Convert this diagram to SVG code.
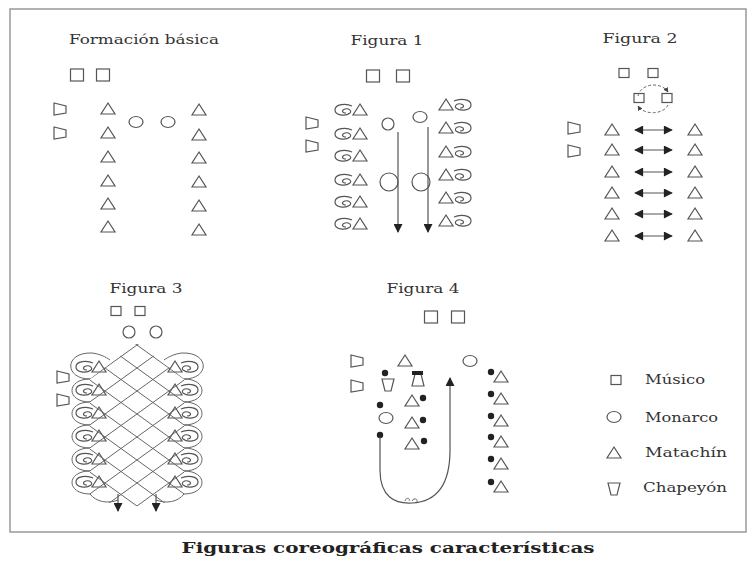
<svg xmlns="http://www.w3.org/2000/svg" width="755" height="563" viewBox="0 0 755 563">
<style>
.t{font-family:"DejaVu Serif","Liberation Serif",serif;font-size:13px;fill:#333}
.cap{font-family:"DejaVu Serif","Liberation Serif",serif;font-size:15px;font-weight:bold;fill:#222}
.ln{fill:none;stroke:#555;stroke-width:1.2}
.lt{fill:none;stroke:#666;stroke-width:1}
</style>
<defs>
<rect id="sq" x="-6.5" y="-6" width="13" height="12" fill="none" stroke="#555" stroke-width="1.2"/>
<rect id="sqs" x="-5" y="-4.5" width="10" height="9" fill="none" stroke="#555" stroke-width="1.2"/>
<ellipse id="mon" rx="7" ry="5.5" fill="none" stroke="#555" stroke-width="1.2"/>
<path id="tri" d="M0,-6 L7,5 L-7,5 Z" fill="none" stroke="#555" stroke-width="1.2"/>
<path id="chap" d="M-6,-6 L6,-3 L6,4 L-6,6 Z" fill="none" stroke="#555" stroke-width="1.2"/>
<path id="chapv" d="M-6,-6 L6,-6 L3,6 L-3,6 Z" fill="none" stroke="#555" stroke-width="1.2"/>
<path id="sw" d="M9,-4 C3,-7 -8,-6 -8,0 C-8,5 2,7 7,3 C9,1 6,-2 2,-1 C-2,0 -1,3 3,3" fill="none" stroke="#555" stroke-width="1.2"/>
<circle id="dot" r="3.2" fill="#222"/>
<marker id="ah" viewBox="0 0 10 10" refX="9" refY="5" markerWidth="10" markerHeight="9" markerUnits="userSpaceOnUse" orient="auto-start-reverse"><path d="M0,0 L10,5 L0,10 Z" fill="#222"/></marker>
<marker id="ahs" viewBox="0 0 10 10" refX="9" refY="5" markerWidth="5" markerHeight="5" markerUnits="userSpaceOnUse" orient="auto"><path d="M0,0 L10,5 L0,10 Z" fill="#444"/></marker>
<clipPath id="latt"><polygon points="137,343 90,378.8 90,496 118,506 156,506 184,496 184,378.8"/></clipPath>
</defs>

<rect id="frame" x="10" y="9" width="736" height="523" fill="none" stroke="#999" stroke-width="1.5"/>

<g id="formacion-basica">
<text class="t" x="144" y="44" text-anchor="middle" textLength="150" lengthAdjust="spacingAndGlyphs">Formación básica</text>
<g id="fb-musicos"><use href="#sq" x="77" y="75"/><use href="#sq" x="103" y="75"/></g>
<g id="fb-chapeyones"><use href="#chap" x="60" y="109"/><use href="#chap" x="60" y="133"/></g>
<g id="fb-monarcos"><use href="#mon" x="136" y="122"/><use href="#mon" x="168" y="122"/></g>
<g id="fb-matachines-izq">
<use href="#tri" x="108" y="109"/><use href="#tri" x="108" y="133"/><use href="#tri" x="108" y="157"/><use href="#tri" x="108" y="181"/><use href="#tri" x="108" y="204"/><use href="#tri" x="108" y="227"/>
</g>
<g id="fb-matachines-der">
<use href="#tri" x="199" y="110"/><use href="#tri" x="199" y="135"/><use href="#tri" x="199" y="158"/><use href="#tri" x="199" y="182"/><use href="#tri" x="199" y="206"/><use href="#tri" x="199" y="230"/>
</g>
</g>

<g id="figura-1">
<text class="t" x="387" y="45" text-anchor="middle" textLength="73" lengthAdjust="spacingAndGlyphs">Figura 1</text>
<g id="f1-musicos"><use href="#sq" x="373" y="76"/><use href="#sq" x="403" y="76"/></g>
<g id="f1-chapeyones"><use href="#chap" x="312" y="123"/><use href="#chap" x="312" y="146"/></g>
<g id="f1-izq">
<use href="#sw" x="343" y="110"/><use href="#tri" x="360" y="110"/>
<use href="#sw" x="343" y="134"/><use href="#tri" x="360" y="134"/>
<use href="#sw" x="343" y="156"/><use href="#tri" x="360" y="156"/>
<use href="#sw" x="343" y="180"/><use href="#tri" x="360" y="180"/>
<use href="#sw" x="343" y="202"/><use href="#tri" x="360" y="202"/>
<use href="#sw" x="343" y="224"/><use href="#tri" x="360" y="224"/>
</g>
<g id="f1-der">
<use href="#tri" x="446" y="105"/><use href="#sw" transform="translate(463,105) scale(-1,1)"/>
<use href="#tri" x="446" y="128"/><use href="#sw" transform="translate(463,128) scale(-1,1)"/>
<use href="#tri" x="446" y="152"/><use href="#sw" transform="translate(463,152) scale(-1,1)"/>
<use href="#tri" x="446" y="175"/><use href="#sw" transform="translate(463,175) scale(-1,1)"/>
<use href="#tri" x="446" y="198"/><use href="#sw" transform="translate(463,198) scale(-1,1)"/>
<use href="#tri" x="446" y="221"/><use href="#sw" transform="translate(463,221) scale(-1,1)"/>
</g>
<g id="f1-monarcos">
<ellipse cx="388" cy="124" rx="6" ry="6" fill="none" stroke="#555" stroke-width="1.2"/>
<ellipse cx="420" cy="117" rx="7" ry="5.5" fill="none" stroke="#555" stroke-width="1.2"/>
<circle cx="389" cy="182" r="9" fill="none" stroke="#555" stroke-width="1.2"/>
<circle cx="421" cy="182" r="9" fill="none" stroke="#555" stroke-width="1.2"/>
</g>
</g>

<g id="figura-2">
<text class="t" x="640" y="43" text-anchor="middle" textLength="75" lengthAdjust="spacingAndGlyphs">Figura 2</text>
<g id="f2-musicos"><use href="#sqs" x="624" y="73"/><use href="#sqs" x="653" y="73"/><use href="#sqs" x="639" y="98"/><use href="#sqs" x="667" y="98"/></g>
<g id="f2-chapeyones"><use href="#chap" x="574" y="128"/><use href="#chap" x="574" y="151"/></g>
<g id="f2-izq">
<use href="#tri" x="612" y="130"/><use href="#tri" x="612" y="150"/><use href="#tri" x="612" y="172"/><use href="#tri" x="612" y="193"/><use href="#tri" x="612" y="214"/><use href="#tri" x="612" y="236"/>
</g>
<g id="f2-der">
<use href="#tri" x="695" y="130"/><use href="#tri" x="695" y="150"/><use href="#tri" x="695" y="172"/><use href="#tri" x="695" y="193"/><use href="#tri" x="695" y="214"/><use href="#tri" x="695" y="236"/>
</g>
</g>

<g id="figura-3">
<text class="t" x="146" y="293" text-anchor="middle" textLength="73" lengthAdjust="spacingAndGlyphs">Figura 3</text>
<g id="f3-musicos"><use href="#sqs" x="116" y="311"/><use href="#sqs" x="140" y="311"/></g>
<g id="f3-monarcos"><circle cx="129" cy="332" r="6" fill="none" stroke="#555" stroke-width="1.2"/><circle cx="156" cy="332" r="6" fill="none" stroke="#555" stroke-width="1.2"/></g>
<g id="f3-chapeyones"><use href="#chap" x="63" y="377"/><use href="#chap" x="63" y="400"/></g>
<g id="f3-izq">
<use href="#sw" x="84" y="367"/><use href="#tri" x="99" y="367"/>
<use href="#sw" x="84" y="390"/><use href="#tri" x="99" y="390"/>
<use href="#sw" x="84" y="413"/><use href="#tri" x="99" y="413"/>
<use href="#sw" x="84" y="436"/><use href="#tri" x="99" y="436"/>
<use href="#sw" x="84" y="459"/><use href="#tri" x="99" y="459"/>
<use href="#sw" x="84" y="482"/><use href="#tri" x="99" y="482"/>
</g>
<g id="f3-der">
<use href="#tri" x="175" y="367"/><use href="#sw" transform="translate(190,367) scale(-1,1)"/>
<use href="#tri" x="175" y="390"/><use href="#sw" transform="translate(190,390) scale(-1,1)"/>
<use href="#tri" x="175" y="413"/><use href="#sw" transform="translate(190,413) scale(-1,1)"/>
<use href="#tri" x="175" y="436"/><use href="#sw" transform="translate(190,436) scale(-1,1)"/>
<use href="#tri" x="175" y="459"/><use href="#sw" transform="translate(190,459) scale(-1,1)"/>
<use href="#tri" x="175" y="482"/><use href="#sw" transform="translate(190,482) scale(-1,1)"/>
</g>
</g>

<g id="figura-4">
<text class="t" x="423" y="293" text-anchor="middle" textLength="73" lengthAdjust="spacingAndGlyphs">Figura 4</text>
<g id="f4-musicos"><use href="#sq" x="431" y="317"/><use href="#sq" x="458" y="317"/></g>
<g id="f4-chapeyones"><use href="#chap" x="357" y="361"/><use href="#chap" x="357" y="386"/></g>
<g id="f4-a"><use href="#tri" x="405" y="361"/></g>
<g id="f4-b"><use href="#chapv" x="388" y="385"/><use href="#dot" x="385" y="373"/></g>
<g id="f4-c"><use href="#mon" x="386" y="418"/><use href="#dot" x="380" y="405"/></g>
<g id="f4-d"><use href="#dot" x="380" y="435"/></g>
<g id="f4-monarco"><use href="#mon" x="470" y="361"/></g>
<g id="f4-centro">
<use href="#chapv" transform="translate(418,380) scale(1,-1)"/><rect x="412" y="371" width="11" height="4" fill="#222"/>
<use href="#tri" x="412" y="401"/><use href="#dot" x="423" y="398"/>
<use href="#tri" x="412" y="423"/><use href="#dot" x="423" y="420"/>
<use href="#tri" x="412" y="444"/><use href="#dot" x="424" y="441"/>
</g>
<g id="f4-der">
<use href="#dot" x="491" y="372"/><use href="#tri" x="501" y="377"/>
<use href="#dot" x="491" y="394"/><use href="#tri" x="501" y="399"/>
<use href="#dot" x="491" y="416"/><use href="#tri" x="501" y="421"/>
<use href="#dot" x="491" y="437"/><use href="#tri" x="501" y="442"/>
<use href="#dot" x="491" y="459"/><use href="#tri" x="501" y="464"/>
<use href="#dot" x="491" y="482"/><use href="#tri" x="501" y="487"/>
</g>
</g>

<g id="leyenda">
<g id="ley-musico"><use href="#sqs" x="616" y="380"/><text class="t" x="645" y="384" textLength="60" lengthAdjust="spacingAndGlyphs">Músico</text></g>
<g id="ley-monarco"><use href="#mon" x="614" y="417"/><text class="t" x="645" y="422" textLength="73" lengthAdjust="spacingAndGlyphs">Monarco</text></g>
<g id="ley-matachin"><use href="#tri" x="614" y="453"/><text class="t" x="645" y="457" textLength="82" lengthAdjust="spacingAndGlyphs">Matachín</text></g>
<g id="ley-chapeyon"><use href="#chapv" x="614" y="489"/><text class="t" x="643" y="492" textLength="84" lengthAdjust="spacingAndGlyphs">Chapeyón</text></g>
</g>

<g id="connectors">
<path class="ln" d="M398,132 V232" marker-end="url(#ah)"/>
<path class="ln" d="M428,127 V232" marker-end="url(#ah)"/>
<path class="lt" d="M638,96 A16,13 0 0 1 668,92" stroke-dasharray="3,2" marker-end="url(#ahs)"/>
<path class="lt" d="M668,105 A16,11 0 0 1 638,106" stroke-dasharray="3,2" marker-end="url(#ahs)"/>
<path class="ln" d="M635,130 H672" marker-start="url(#ah)" marker-end="url(#ah)"/>
<path class="ln" d="M635,150 H672" marker-start="url(#ah)" marker-end="url(#ah)"/>
<path class="ln" d="M635,172 H672" marker-start="url(#ah)" marker-end="url(#ah)"/>
<path class="ln" d="M635,193 H672" marker-start="url(#ah)" marker-end="url(#ah)"/>
<path class="ln" d="M635,214 H672" marker-start="url(#ah)" marker-end="url(#ah)"/>
<path class="ln" d="M635,236 H672" marker-start="url(#ah)" marker-end="url(#ah)"/>
<g clip-path="url(#latt)">
<path class="lt" d="M85,307.6 L190,383.2 M85,330.6 L190,406.2 M85,353.6 L190,429.2 M85,376.6 L190,452.2 M85,399.6 L190,475.2 M85,422.6 L190,498.2 M85,445.6 L190,521.2 M85,468.6 L190,544.2"/>
<path class="lt" d="M85,382.4 L190,306.8 M85,405.4 L190,329.8 M85,428.4 L190,352.8 M85,451.4 L190,375.8 M85,474.4 L190,398.8 M85,497.4 L190,421.8 M85,520.4 L190,444.8 M85,543.4 L190,467.8"/>
</g>
<path class="lt" d="M90,379 C64,379 64,352 92,353 C100,354 106,357 110,360"/>
<path class="lt" d="M184,379 C210,379 210,352 182,353 C174,354 168,357 164,360"/>
<path class="lt" d="M90,402 C66,402 66,379 90,379 M90,425 C66,425 66,402 90,402 M90,448 C66,448 66,425 90,425 M90,471 C66,471 66,448 90,448 M90,494 C66,494 66,471 90,471 M90,494 C96,502 108,504 118,500"/>
<path class="lt" d="M184,402 C208,402 208,379 184,379 M184,425 C208,425 208,402 184,402 M184,448 C208,448 208,425 184,425 M184,471 C208,471 208,448 184,448 M184,494 C208,494 208,471 184,471 M184,494 C178,502 166,504 156,500"/>
<path class="ln" d="M118,494 V511" marker-end="url(#ah)"/>
<path class="ln" d="M156,494 V511" marker-end="url(#ah)"/>
<path class="ln" d="M380,437 L380,470 C380,497 395,504 412,503 C432,502 450,490 450,450 L450,378" marker-end="url(#ah)"/>
<path class="lt" d="M405,501 c1,-4 6,-3 4,0 M412,501 c1,-3 6,-3 5,1"/>
</g>

<text class="cap" x="388" y="553" text-anchor="middle" textLength="413" lengthAdjust="spacingAndGlyphs">Figuras coreográficas características</text>
</svg>
